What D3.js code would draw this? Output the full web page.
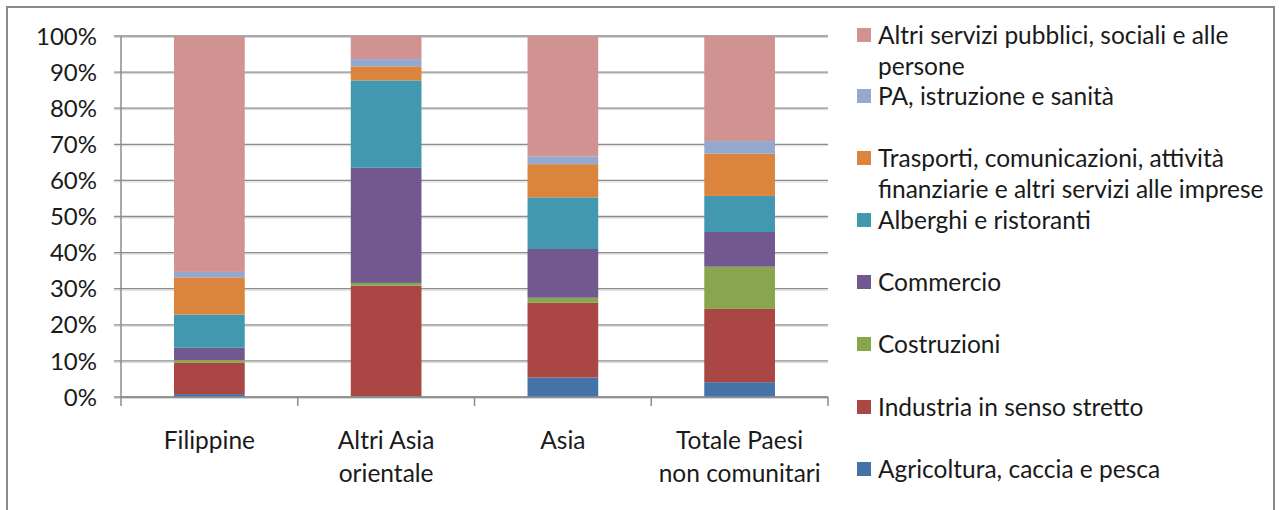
<!DOCTYPE html>
<html>
<head>
<meta charset="utf-8">
<script src="https://cdn.jsdelivr.net/npm/d3@7"></script>
<style>
  html, body { margin: 0; padding: 0; background: #fff; }
  svg { display: block; }
  text { font-family: Lato, "Open Sans", sans-serif; fill: #1a1a1a; }
</style>
</head>
<body>
<svg id="chart" width="1279" height="510"></svg>
<script>
// ---- Data ----
const categories = ["Filippine", "Altri Asia orientale", "Asia", "Totale Paesi non comunitari"];
const categoryLabelLines = [["Filippine"], ["Altri Asia", "orientale"], ["Asia"], ["Totale Paesi", "non comunitari"]];

const seriesNames = [
  "Agricoltura, caccia e pesca",
  "Industria in senso stretto",
  "Costruzioni",
  "Commercio",
  "Alberghi e ristoranti",
  "Trasporti, comunicazioni, attività finanziarie e altri servizi alle imprese",
  "PA, istruzione e sanità",
  "Altri servizi pubblici, sociali e alle persone"
];
const legendLines = [
  ["Agricoltura, caccia e pesca"],
  ["Industria in senso stretto"],
  ["Costruzioni"],
  ["Commercio"],
  ["Alberghi e ristoranti"],
  ["Trasporti, comunicazioni, attività", "finanziarie e altri servizi alle imprese"],
  ["PA, istruzione e sanità"],
  ["Altri servizi pubblici, sociali e alle", "persone"]
];

const agricoltura = [0.8, 0.2, 5.4, 4.1];
const industria   = [8.7, 30.6, 20.7, 20.3];
const costruzioni = [0.75, 0.8, 1.4, 11.7];
const commercio   = [3.4, 31.9, 13.5, 9.6];
const alberghi    = [9.2, 24.2, 14.3, 10.0];
const trasporti   = [10.3, 3.9, 9.2, 11.7];
const pa          = [1.5, 2.0, 2.1, 3.5];
const altri       = [65.35, 6.4, 33.4, 29.1];

const yTicks = [0, 0.1, 0.2, 0.3, 0.4, 0.5, 0.6, 0.7, 0.8, 0.9, 1.0];
const colors = ["#4572A7", "#AA4643", "#89A54E", "#71588F", "#4198AF", "#DB843D", "#93A9CF", "#D19392"];

// ---- Build table ----
const seriesValues = [agricoltura, industria, costruzioni, commercio, alberghi, trasporti, pa, altri];
const table = categories.map((c, i) => {
  const row = { cat: c };
  seriesNames.forEach((s, j) => row[s] = seriesValues[j][i]);
  return row;
});
const stacked = d3.stack().keys(seriesNames).offset(d3.stackOffsetExpand)(table);

// ---- Layout ----
const svg = d3.select("#chart");
const plot = { left: 121, right: 828, top: 36, bottom: 397 };

// outer frame
svg.append("rect")
  .attr("x", 7).attr("y", 7).attr("width", 1267).attr("height", 520)
  .attr("fill", "none").attr("stroke", "#8a8a8a").attr("stroke-width", 2);

const x = d3.scaleBand().domain(categories).range([plot.left, plot.right])
  .paddingInner(0.6).paddingOuter(0.3);
const y = d3.scaleLinear().domain([0, 1]).range([plot.bottom, plot.top]);

// gridlines
const grid = svg.append("g");
yTicks.forEach(t => {
  grid.append("line")
    .attr("x1", plot.left - 7).attr("x2", plot.right)
    .attr("y1", y(t) + 1.5).attr("y2", y(t) + 1.5)
    .attr("stroke", "#d6d6d6").attr("stroke-width", 1);
  grid.append("line")
    .attr("x1", plot.left - 7).attr("x2", plot.right)
    .attr("y1", y(t)).attr("y2", y(t))
    .attr("stroke", "#8c8c8c").attr("stroke-width", 1.3);
});

// bars
svg.append("g").selectAll("g")
  .data(stacked)
  .join("g")
  .attr("fill", (d, i) => colors[i])
  .selectAll("rect")
  .data(d => d)
  .join("rect")
  .attr("x", d => x(d.data.cat))
  .attr("width", x.bandwidth())
  .attr("y", d => y(d[1]))
  .attr("height", d => Math.max(0, y(d[0]) - y(d[1])));

// y axis line
svg.append("line")
  .attr("x1", plot.left).attr("x2", plot.left)
  .attr("y1", plot.top).attr("y2", plot.bottom + 9)
  .attr("stroke", "#8c8c8c").attr("stroke-width", 1.5);

// x axis line
svg.append("line")
  .attr("x1", plot.left).attr("x2", plot.right)
  .attr("y1", plot.bottom).attr("y2", plot.bottom)
  .attr("stroke", "#8c8c8c").attr("stroke-width", 1.5);

// x ticks at band boundaries
categories.forEach((c) => {
  const bx = x(c) + x.bandwidth() / 2 + x.step() / 2;
  svg.append("line")
    .attr("x1", bx).attr("x2", bx)
    .attr("y1", plot.bottom).attr("y2", plot.bottom + 9)
    .attr("stroke", "#8c8c8c").attr("stroke-width", 1.5);
});

// y tick labels
svg.append("g").selectAll("text")
  .data(yTicks)
  .join("text")
  .attr("x", 97)
  .attr("y", d => y(d))
  .attr("dy", "0.36em")
  .attr("text-anchor", "end")
  .attr("font-size", 24)
  .text(d => d3.format(".0%")(d));

// x labels
categories.forEach((c, i) => {
  const cx = x(c) + x.bandwidth() / 2;
  const t = svg.append("text")
    .attr("x", cx).attr("y", 440)
    .attr("text-anchor", "middle")
    .attr("font-size", 24.5);
  categoryLabelLines[i].forEach((line, k) => {
    t.append("tspan").attr("x", cx).attr("dy", k === 0 ? "0.36em" : 33).text(line);
  });
});

// legend (top to bottom: reverse of stack)
const legendY = [35, 96, 158, 220, 282, 344, 407, 469];
const order = d3.range(seriesNames.length).reverse();
order.forEach((si, k) => {
  const ly = legendY[k];
  svg.append("rect")
    .attr("x", 857).attr("y", ly - 7).attr("width", 14).attr("height", 14)
    .attr("fill", colors[si]);
  const t = svg.append("text")
    .attr("x", 878).attr("y", ly)
    .attr("font-size", 24.5);
  legendLines[si].forEach((line, j) => {
    t.append("tspan").attr("x", 878).attr("dy", j === 0 ? "0.36em" : 31).text(line);
  });
});
</script>
</body>
</html>
